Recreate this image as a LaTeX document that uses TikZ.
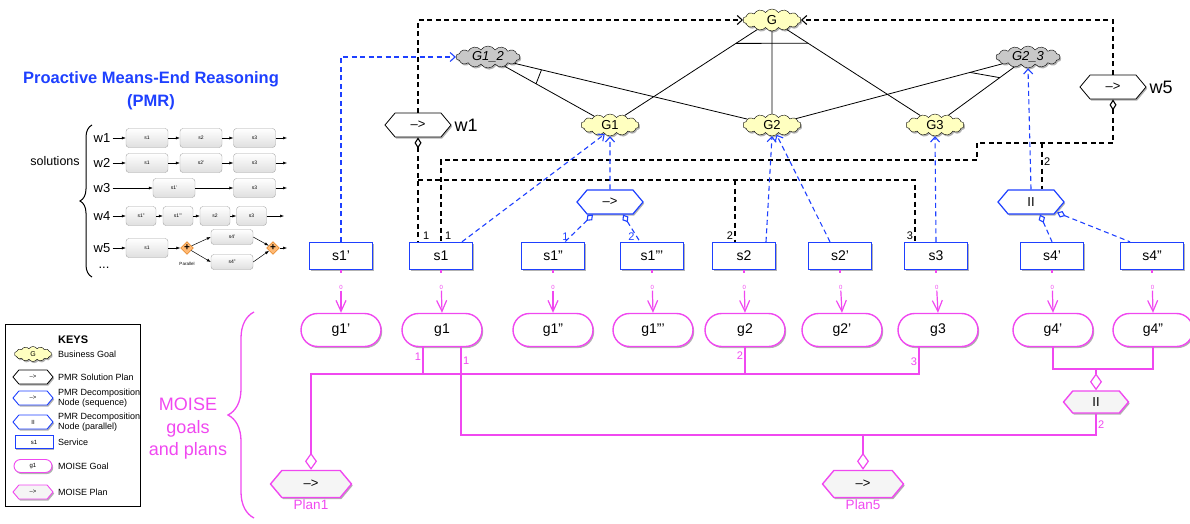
\documentclass[tikz,border=0pt]{standalone}
\usepackage{fontspec}
\setmainfont{Liberation Sans}
\usepackage{tikz}
\usetikzlibrary{shapes.symbols, shapes.geometric, shapes.misc, arrows.meta, shadows, calc, decorations.pathreplacing}

\definecolor{pmrblue}{RGB}{30,64,255}
\definecolor{moise}{RGB}{240,72,240}
\definecolor{goalyellow}{RGB}{255,255,192}
\definecolor{subgray}{RGB}{200,200,200}

\tikzset{
  shad/.style={drop shadow={shadow xshift=1.2pt, shadow yshift=-1.6pt, opacity=0.3, fill=black}},
  goal/.style={cloud, cloud puffs=14, cloud puff arc=115, cloud ignores aspect, draw=black, fill=goalyellow, minimum width=58pt, minimum height=22pt, inner sep=0pt, font=\fontsize{13}{14}\selectfont, shad},
  subgoal/.style={goal, fill=subgray, minimum width=64pt, font=\fontsize{13}{14}\selectfont\itshape},
  hexa/.style={signal, signal to=east and west, signal pointer angle=100, minimum width=66pt, minimum height=24pt, inner sep=0pt, fill=white, font=\fontsize{13}{14}\selectfont, shad},
  solplan/.style={hexa, draw=black, line width=0.8pt},
  decnode/.style={hexa, draw=pmrblue, line width=1.2pt},
  service/.style={rectangle, draw=pmrblue, line width=1.4pt, fill=white, minimum width=63pt, minimum height=27pt, inner sep=0pt, font=\fontsize{14}{15}\selectfont, shad},
  mgoal/.style={rounded rectangle, draw=moise, line width=1.4pt, fill=white, minimum width=80pt, minimum height=33pt, inner sep=0pt, font=\fontsize{14}{15}\selectfont, shad},
  mplan/.style={hexa, draw=moise, line width=1.4pt, fill=gray!8, minimum width=81pt, minimum height=27pt},
  andline/.style={line width=0.8pt},
  kdash/.style={dash pattern=on 5pt off 3.5pt, line width=1.1pt},
  bdash/.style={kdash, draw=pmrblue},
  mline/.style={draw=moise, line width=1.2pt},
  knum/.style={font=\fontsize{11}{12}\selectfont, inner sep=1.5pt},
  bnum/.style={knum, text=pmrblue},
  mnum/.style={knum, text=moise},
  zlab/.style={font=\fontsize{6}{6}\selectfont, text=moise, inner sep=1pt},
  wname/.style={font=\fontsize{18}{20}\selectfont, inner sep=3pt},
  pbox/.style={rectangle, rounded corners=3pt, draw=gray!70, top color=white, bottom color=gray!25, minimum width=42pt, minimum height=19pt, inner sep=0pt, font=\fontsize{5}{6}\selectfont},
  sbox/.style={pbox, minimum width=30pt},
  pdia/.style={diamond, draw=orange!85!black, fill=orange!55, inner sep=0pt, minimum size=13pt, font=\fontsize{10}{10}\selectfont\bfseries},
  parr/.style={-{Latex[length=4pt,width=3pt]}, line width=0.5pt},
  wlab/.style={font=\fontsize{13}{14}\selectfont, inner sep=2pt},
  ktext/.style={anchor=west, align=left, font=\fontsize{9}{10.5}\selectfont, inner sep=0pt},
  mtext/.style={text=moise, font=\fontsize{13.5}{15}\selectfont}
}

\begin{document}
\begin{tikzpicture}[x=1pt, y=-1pt, >={Straight Barb[length=5pt,width=9pt]}]
  \useasboundingbox (0,0) rectangle (1190,524);

  % Define parameters
  \def\sRow{256}   % row of the services
  \def\gRow{330}   % row of the MOISE goals

  % Business goals
  \node[goal] (G) at (772,20) {G};
  \node[subgoal] (G12) at (488,57) {G1\_2};
  \node[subgoal] (G23) at (1028,57) {G2\_3};
  \node[goal] (G1) at (610,125) {G1};
  \node[goal] (G2) at (772,125) {G2};
  \node[goal] (G3) at (935,125) {G3};

  % Goal decomposition
  \draw[andline] (G) -- (G1);
  \draw[andline] (G) -- (G2);
  \draw[andline] (G) -- (G3);
  \draw[andline] ($(G)!43pt!(G1)$) -- ($(G)!43pt!(G3)$);
  \draw[andline] (G12) -- (G1);
  \draw[andline] (G12) -- (G2);
  \draw[andline] ($(G12)!55pt!(G1)$) -- ($(G12)!55pt!(G2)$);
  \draw[andline] (G23) -- (G2);
  \draw[andline] (G23) -- (G3);
  \draw[andline] ($(G23)!60pt!(G2)$) -- ($(G23)!35pt!(G3)$);

  % PMR solution plans and decomposition nodes
  \node[solplan] (w1) at (418,125) {-->};
  \node[wname, anchor=west] (w1lab) at (w1.east) {w1};
  \node[solplan] (w5) at (1113,87) {-->};
  \node[wname, anchor=west] (w5lab) at (w5.east) {w5};
  \node[decnode] (seq) at (610,202) {-->};
  \node[decnode] (par) at (1031,202) {II};

  % Services
  \foreach \n/\x/\t in {1p/341/s1', 1/441/s1, 1pp/553/s1'', 1ppp/652/s1''', 2/744/s2, 2p/840/s2', 3/936/s3, 4p/1052/s4', 4pp/1152/s4''}
    \node[service] (s\n) at (\x,\sRow) {\t};

  % MOISE goals
  \foreach \n/\x/\t in {1p/341/g1', 1/442/g1, 1pp/553/g1'', 1ppp/653/g1''', 2/745/g2, 2p/842/g2', 3/938/g3, 4p/1053/g4', 4pp/1153/g4''}
    \node[mgoal] (g\n) at (\x,\gRow) {\t};

  % Service -> goal
  \foreach \n in {1p,1,1pp,1ppp,2,2p,3,4p,4pp} {
    \node[zlab] (z\n) at ($(s\n.south)!0.4!(g\n.north)$) {0};
    \draw[mline] (s\n.south) -- ++(0,2.5);
    \draw[mline, -{Straight Barb[length=11pt,width=10pt]}] (z\n.south) -- (g\n.north);
  }

  % w1 and w5 (black dashed)
  \coordinate (busA) at (0,180);
  \coordinate (busB) at (0,160);
  \coordinate (busC) at (0,143);
  \coordinate (jog) at (977,143);
  \coordinate (s1k) at ([xshift=-23pt]s1.north);
  \coordinate (s2k) at ([xshift=-9pt]s2.north);
  \coordinate (s3k) at ([xshift=-21pt]s3.north);
  \coordinate (park) at ([xshift=11pt]par.north);
  \draw[kdash, ->] (w1.north) |- (G.west);
  \draw[kdash, ->] (w5.north) |- (G.east);
  \draw[kdash, {Diamond[open,length=11pt,width=7pt]}-] (w1.south) -- (s1k) node[knum, above right, xshift=3pt] {1};
  \draw[kdash] (w1.south |- busA) -| (s3k) node[knum, above left] {3};
  \draw[kdash] (s2k |- busA) -- (s2k) node[knum, above left] {2};
  \draw[kdash, {Diamond[open,length=11pt,width=7pt]}-] (w5.south) |- (jog) -- (jog |- busB) -| (s1.north) node[knum, above right, xshift=2pt] {1};
  \draw[kdash] (park |- busC) -- node[knum, right, pos=0.4] {2} (park);

  % PMR decomposition (blue dashed)
  \draw[bdash, ->] (s1p.north) |- (G12.west);
  \draw[bdash, ->] ([xshift=21pt]s1.north) -- (G1.240);
  \draw[bdash, ->] (seq.north) -- (G1.south);
  \draw[bdash, {Diamond[open,length=9pt,width=7pt]}-] ([xshift=-17pt]seq.south) -- node[bnum, left, pos=0.8] {1} ([xshift=12pt]s1pp.north);
  \draw[bdash, {Diamond[open,length=9pt,width=7pt]}-] ([xshift=13pt]seq.south) -- node[bnum, left, pos=0.8] {2} ([xshift=-12pt]s1ppp.north);
  \draw[bdash, ->] ([xshift=22pt]s2.north) -- (G2.south);
  \draw[bdash, ->] ([xshift=-10pt]s2p.north) -- (G2.-65);
  \draw[bdash, ->] (s3.north) -- (G3.south);
  \draw[bdash, ->] (par.north) -- (G23.south);
  \draw[bdash, {Diamond[open,length=9pt,width=7pt]}-] ([xshift=9pt]par.south) -- (s4p.north);
  \draw[bdash, {Diamond[open,length=9pt,width=7pt]}-] ([xshift=26pt,yshift=2pt]par.south) -- ([xshift=-22pt]s4pp.north);

  % MOISE plans
  \node[mplan] (plan1) at (311,484) {-->};
  \node[mtext, below, inner sep=1pt] (plan1lab) at (plan1.south) {Plan1};
  \node[mplan] (plan5) at (863,484) {-->};
  \node[mtext, below, inner sep=1pt] (plan5lab) at (plan5.south) {Plan5};
  \node[mplan, minimum width=65pt, minimum height=22pt] (mpar) at (1096,402) {II};

  \coordinate (busM1) at (0,374);
  \coordinate (busM2) at (0,435);
  \coordinate (busM3) at (0,369);
  \coordinate (g1k) at ([xshift=-19pt]g1.south);
  \coordinate (g1r) at ([xshift=19pt]g1.south);
  \coordinate (g3k) at ([xshift=-19pt]g3.south);
  \draw[mline, {Diamond[open,length=17pt,width=12pt]}-] (plan1.north) |- (g3k |- busM1) -- node[mnum, left, pos=0.45] {3} (g3k);
  \draw[mline] (g1k) -- node[mnum, left, pos=0.35] {1} (g1k |- busM1);
  \draw[mline] (g2.south) -- node[mnum, left, pos=0.3] {2} (g2.south |- busM1);
  \draw[mline] (g1r) -- node[mnum, right, pos=0.15] {1} (g1r |- busM2) -| node[mnum, right, pos=0.75] {2} (mpar.south);
  \draw[mline, {Diamond[open,length=17pt,width=12pt]}-] (plan5.north) -- (plan5.north |- busM2);
  \draw[mline, {Diamond[open,length=17pt,width=12pt]}-] (mpar.north) -- (mpar.north |- busM3);
  \draw[mline] (g4p.south) |- (g4pp.south |- busM3) -- (g4pp.south);

  % MOISE brace
  \node[text=moise, align=center, font=\fontsize{18}{22.5}\selectfont] (moiselab) at (188,429) {MOISE\\goals\\and plans};
  \draw[moise, line width=1.3pt, decorate, decoration={brace, amplitude=26pt}] (254,518) -- (254,312);

  % Proactive Means-End Reasoning
  \node[text=pmrblue, align=center, font=\bfseries\fontsize{16.5}{23}\selectfont] (pmr) at (151,91) {Proactive Means-End Reasoning\\(PMR)};
  \node[font=\fontsize{12.5}{14}\selectfont] (sol) at (55,161) {solutions};
  \draw[line width=1pt, decorate, decoration={brace, amplitude=12pt}] (92,277) -- (92,125);
  \foreach \r/\y in {1/138, 2/163, 3/188, 4/216, 5/248}
    \node[wlab] (lw\r) at (102,\y) {w\r};
  \node[wlab] (ldots) at (104,268) {...};

  % w1 and w2
  \foreach \r/\y/\a/\b/\c in {1/138/s1/s2/s3, 2/163/s1/s2'/s3} {
    \node[pbox] (p\r a) at (147,\y) {\a};
    \node[pbox] (p\r b) at (201,\y) {\b};
    \node[pbox] (p\r c) at (254.5,\y) {\c};
    \coordinate (p\r e) at (287,\y);
    \draw[parr] (lw\r) -- (p\r a);
    \draw[parr] (p\r a) -- (p\r b);
    \draw[parr] (p\r b) -- (p\r c);
    \draw[parr] (p\r c) -- (p\r e);
  }

  % w3
  \node[pbox] (p3a) at (174,188) {s1'};
  \node[pbox] (p3c) at (254.5,188) {s3};
  \coordinate (p3e) at (287,188);
  \draw[parr] (lw3) -- (p3a);
  \draw[parr] (p3a) -- (p3c);
  \draw[parr] (p3c) -- (p3e);

  % w4
  \node[sbox] (p4a) at (141,216) {s1''};
  \node[sbox] (p4b) at (178,216) {s1'''};
  \node[sbox] (p4c) at (215,216) {s2};
  \node[sbox] (p4d) at (251.5,216) {s3};
  \coordinate (p4e) at (284,216);
  \draw[parr] (lw4) -- (p4a);
  \draw[parr] (p4a) -- (p4b);
  \draw[parr] (p4b) -- (p4c);
  \draw[parr] (p4c) -- (p4d);
  \draw[parr] (p4d) -- (p4e);

  % w5
  \node[pbox] (p5a) at (147,248) {s1};
  \node[pdia] (d1) at (187,248) {+};
  \node[font=\fontsize{4.5}{5}\selectfont] (parlab) at (187,264) {Parallel};
  \node[pbox, minimum height=15pt] (p5b) at (232,237) {s4'};
  \node[pbox, minimum height=15pt] (p5c) at (232,262) {s4''};
  \node[pdia] (d2) at (273,248) {+};
  \coordinate (p5e) at (287,248);
  \draw[parr] (lw5) -- (p5a);
  \draw[parr] (p5a) -- (d1);
  \draw[parr] (d1) -- (p5b.west);
  \draw[parr] (d1) -- (p5c.west);
  \draw[parr] (p5b.east) -- (d2);
  \draw[parr] (p5c.east) -- (d2);
  \draw[parr] (d2) -- (p5e);

  % Keys
  \node[draw, line width=0.6pt, minimum width=135pt, minimum height=182pt, anchor=north west, inner sep=0pt] (keys) at (5,324) {};
  \node[anchor=west, inner sep=0pt, font=\bfseries\fontsize{11}{12}\selectfont] (ktitle) at (58,340) {KEYS};
  \node[goal, minimum width=37pt, minimum height=15pt, font=\fontsize{7}{8}\selectfont] (k1) at (33,354) {G};
  \node[ktext] (k1t) at (58,354) {Business Goal};
  \node[solplan, minimum width=40pt, minimum height=14pt, font=\fontsize{6}{7}\selectfont] (k2) at (33,377) {-->};
  \node[ktext] (k2t) at (58,377) {PMR Solution Plan};
  \node[decnode, line width=0.9pt, minimum width=40pt, minimum height=14pt, font=\fontsize{6}{7}\selectfont] (k3) at (33,398) {-->};
  \node[ktext] (k3t) at (58,398) {PMR Decomposition\\Node (sequence)};
  \node[decnode, line width=0.9pt, minimum width=40pt, minimum height=14pt, font=\fontsize{6}{7}\selectfont] (k4) at (33,422) {II};
  \node[ktext] (k4t) at (58,422) {PMR Decomposition\\Node (parallel)};
  \node[service, line width=0.9pt, minimum width=38pt, minimum height=13pt, font=\fontsize{6}{7}\selectfont] (k5) at (34,442) {s1};
  \node[ktext] (k5t) at (58,442) {Service};
  \node[mgoal, line width=0.9pt, minimum width=38pt, minimum height=13pt, font=\fontsize{6}{7}\selectfont] (k6) at (33,466) {g1};
  \node[ktext] (k6t) at (58,466) {MOISE Goal};
  \node[mplan, line width=0.9pt, minimum width=40pt, minimum height=14pt, font=\fontsize{6}{7}\selectfont] (k7) at (33,492) {-->};
  \node[ktext] (k7t) at (58,492) {MOISE Plan};
\end{tikzpicture}
\end{document}
